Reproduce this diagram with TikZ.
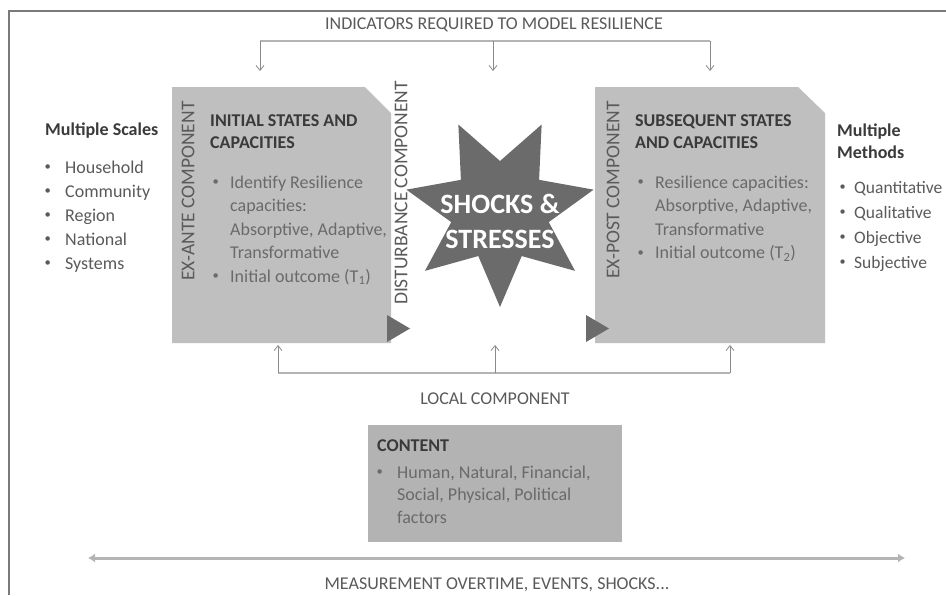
\documentclass[tikz,border=0pt]{standalone}
\usepackage{fontspec}
\setmainfont{Carlito}
\usetikzlibrary{arrows.meta,calc}
\definecolor{framecol}{HTML}{7A7A7A}
\definecolor{boxfill}{HTML}{BFBFBF}
\definecolor{contentfill}{HTML}{B3B3B3}
\definecolor{darkfill}{HTML}{6B6B6B}
\definecolor{headtext}{HTML}{3A3A3A}
\definecolor{bodytext}{HTML}{6A6A6A}
\definecolor{outtext}{HTML}{5A5A5A}
\definecolor{linecol}{HTML}{B4B4B4}
\definecolor{arrcol}{HTML}{8A8A8A}
\newcommand{\bul}{\hspace*{1.5pt}\raisebox{0.12em}{\scalebox{0.7}{\textbullet}}}
\begin{document}
\begin{tikzpicture}[x=1pt,y=-1pt,
  lbl/.style={inner sep=0pt, text=outtext, font=\fontsize{18}{24}\selectfont},
  rotlbl/.style={inner sep=0pt, text=outtext, font=\fontsize{19.5}{24}\selectfont, rotate=90},
  head/.style={inner sep=0pt, text=headtext, font=\bfseries\fontsize{18}{22}\selectfont, anchor=base west},
  bodylist/.style={inner sep=0pt, text=bodytext, anchor=base west},
  outlist/.style={inner sep=0pt, text=outtext, anchor=base west},
  bigbox/.style={fill=boxfill, draw=none},
  tri/.style={fill=darkfill, draw=none},
  bracket/.style={draw=linecol, line width=2.5pt},
  upar/.style={draw=arrcol, line width=0.8pt, -{Straight Barb[length=5pt,width=8pt]}},
  measure/.style={draw=linecol, line width=3pt, {Latex[length=7pt,width=9pt]}-{Latex[length=7pt,width=9pt]}}
]
\useasboundingbox (0,0) rectangle (946,595);
\fill[white] (0,0) rectangle (946,595);

% frame
\draw[framecol, line width=2.5pt] (9,595) -- (9,11) -- (946,11);

% title and top bracket
\node[lbl, anchor=base] (title) at (494,29) {INDICATORS REQUIRED TO MODEL RESILIENCE};
\coordinate (tl) at (260,41);
\coordinate (tm) at (493,41);
\coordinate (tr) at (710,41);
\coordinate (tla) at (260,71);
\coordinate (tma) at (493,71);
\coordinate (tra) at (710,71);
\draw[bracket] (tl) -- (tr);
\draw[upar] (tl) -- (tla);
\draw[upar] (tm) -- (tma);
\draw[upar] (tr) -- (tra);

% left box
\fill[bigbox] (172,87) -- (365,87) -- (391,113) -- (391,343) -- (172,343) -- cycle;
\fill[tri] (387,315) -- (410,328.5) -- (387,342) -- cycle;
\node[rotlbl] (exante) at (188,191) {EX-ANTE COMPONENT};
\node[head] (inithead) at (210,126) {\begin{tabular}[t]{@{}l@{}}INITIAL STATES AND\\CAPACITIES\end{tabular}};
\node[bodylist] (initlist) at (211,188) {\fontsize{18}{23.5}\selectfont\begin{tabular}[t]{@{}p{19pt}@{}l@{}}
\bul & Identify Resilience\\
 & capacities:\\
 & Absorptive, Adaptive,\\
 & Transformative\\
\bul & Initial outcome (T\textsubscript{1})
\end{tabular}};

% disturbance
\node[rotlbl] (disturb) at (401,193) {DISTURBANCE COMPONENT};

% star
\coordinate (S) at (500,211);
\fill[darkfill] ($(S)+(90:96)$)
  \foreach \k in {0,...,6} { -- ($(S)+(90+\k*51.4286+25.7143:50)$) -- ($(S)+(90+\k*51.4286+51.4286:96)$) } -- cycle;
\node[inner sep=0pt, text=white, font=\bfseries\fontsize{28}{35}\selectfont, align=center] (shocks) at (500,221) {SHOCKS \&\\STRESSES};

% right box
\fill[bigbox] (595,87) -- (798,87) -- (825,113) -- (825,343) -- (595,343) -- cycle;
\fill[tri] (586,315) -- (609,328.5) -- (586,342) -- cycle;
\node[rotlbl] (expost) at (613,190) {EX-POST COMPONENT};
\node[head] (subhead) at (635,126) {\begin{tabular}[t]{@{}l@{}}SUBSEQUENT STATES\\AND CAPACITIES\end{tabular}};
\node[bodylist] (sublist) at (636,188) {\fontsize{18}{23.5}\selectfont\begin{tabular}[t]{@{}p{19pt}@{}l@{}}
\bul & Resilience capacities:\\
 & Absorptive, Adaptive,\\
 & Transformative\\
\bul & Initial outcome (T\textsubscript{2})
\end{tabular}};

% left column
\node[head] (scaleshead) at (45,135) {Multiple Scales};
\node[outlist] (scales) at (43,173) {\fontsize{18}{24}\selectfont\begin{tabular}[t]{@{}p{22pt}@{}l@{}}
\bul & Household\\
\bul & Community\\
\bul & Region\\
\bul & National\\
\bul & Systems
\end{tabular}};

% right column
\node[head] (methhead) at (837,136) {\begin{tabular}[t]{@{}l@{}}Multiple\\Methods\end{tabular}};
\node[outlist] (methods) at (838,193) {\fontsize{17.5}{25}\selectfont\begin{tabular}[t]{@{}p{16pt}@{}l@{}}
\bul & Quantitative\\
\bul & Qualitative\\
\bul & Objective\\
\bul & Subjective
\end{tabular}};

% bottom bracket
\coordinate (bl) at (278,373);
\coordinate (bm) at (495,373);
\coordinate (br) at (730,373);
\coordinate (bla) at (278,345);
\coordinate (bma) at (495,345);
\coordinate (bra) at (730,345);
\draw[bracket] (bl) -- (br);
\draw[upar] (bl) -- (bla);
\draw[upar] (bm) -- (bma);
\draw[upar] (br) -- (bra);
\node[lbl, anchor=base] (local) at (495,404) {LOCAL COMPONENT};

% content box
\fill[fill=contentfill] (368,425) rectangle (622,542);
\node[head] (conthead) at (377,451) {CONTENT};
\node[bodylist] (contlist) at (375,478) {\fontsize{18}{22.5}\selectfont\begin{tabular}[t]{@{}p{22pt}@{}l@{}}
\bul & Human, Natural, Financial,\\
 & Social, Physical, Political\\
 & factors
\end{tabular}};

% measurement arrow
\coordinate (ml) at (88,558);
\coordinate (mr) at (905,558);
\draw[measure] (ml) -- (mr);
\node[lbl, anchor=base] (meas) at (497,589) {MEASUREMENT OVERTIME, EVENTS, SHOCKS...};
\end{tikzpicture}
\end{document}
